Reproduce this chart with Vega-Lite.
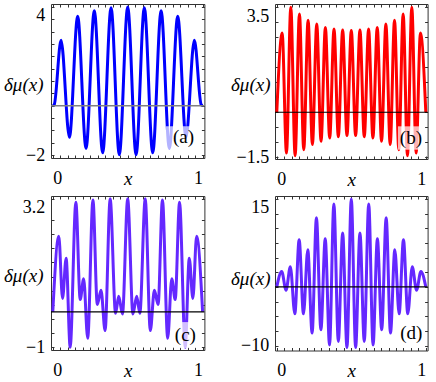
{
  "$schema": "https://vega.github.io/schema/vega-lite/v6.json",
  "padding": {"left": 3, "top": 0, "right": 0, "bottom": 0},
  "bounds": "flush",
  "columns": 2,
  "spacing": {"column": 70, "row": 37},
  "config": {
    "view": {"stroke": null},
    "font": "Liberation Serif, Times New Roman, DejaVu Serif, serif",
    "text": {"font": "Liberation Serif, Times New Roman, DejaVu Serif, serif"},
    "axis": {
      "grid": false, "domainColor": "#333333", "tickColor": "#333333", "domainWidth": 1, "tickWidth": 1,
      "tickSize": -3, "labelFont": "Liberation Serif, Times New Roman, DejaVu Serif, serif", "labelFontSize": 18, "labelColor": "#000000",
      "titleFont": "Liberation Serif, Times New Roman, DejaVu Serif, serif", "titleFontSize": 19, "titleFontWeight": "normal", "titleColor": "#000000",
      "labelOverlap": false, "labelBound": false
    },
    "axisBottom": {"labelBaseline": "middle", "labelPadding": 23, "labelFlush": 5, "titleY": 20, "titleBaseline": "middle", "titleFontStyle": "italic"},
    "axisLeft": {"labelPadding": 9.3, "labelAlign": "right", "titleAngle": 0, "titleAlign": "right", "titleBaseline": "middle", "titleFontStyle": "italic"},
    "axisTop": {"labels": false},
    "axisRight": {"labels": false}
  },
  "datasets": {
    "a": [
      {"x": 0, "y": 0}, {"x": 0.01, "y": 0.05}, {"x": 0.055, "y": 2.65}, {"x": 0.111, "y": -1.28}, {"x": 0.166, "y": 3.62},
      {"x": 0.222, "y": -1.73}, {"x": 0.277, "y": 3.85}, {"x": 0.333, "y": -1.91}, {"x": 0.389, "y": 3.97},
      {"x": 0.444, "y": -1.99}, {"x": 0.5, "y": 4.0}, {"x": 0.556, "y": -1.99}, {"x": 0.611, "y": 3.97},
      {"x": 0.667, "y": -1.91}, {"x": 0.723, "y": 3.85}, {"x": 0.778, "y": -1.73}, {"x": 0.834, "y": 3.62},
      {"x": 0.889, "y": -1.28}, {"x": 0.945, "y": 2.65}, {"x": 0.99, "y": 0.05}, {"x": 1, "y": 0}
    ],
    "b": [
      {"x": 0, "y": 0}, {"x": 0.036, "y": 2.64}, {"x": 0.065, "y": -1.36}, {"x": 0.094, "y": 3.5}, {"x": 0.123, "y": -1.45},
      {"x": 0.152, "y": 3.28}, {"x": 0.181, "y": -1.25}, {"x": 0.21, "y": 3.07}, {"x": 0.239, "y": -1.08},
      {"x": 0.268, "y": 2.94}, {"x": 0.297, "y": -0.97}, {"x": 0.326, "y": 2.83}, {"x": 0.355, "y": -0.86},
      {"x": 0.384, "y": 2.78}, {"x": 0.413, "y": -0.82}, {"x": 0.442, "y": 2.74}, {"x": 0.471, "y": -0.78},
      {"x": 0.5, "y": 2.73}, {"x": 0.529, "y": -0.78}, {"x": 0.558, "y": 2.74}, {"x": 0.587, "y": -0.82},
      {"x": 0.616, "y": 2.78}, {"x": 0.645, "y": -0.86}, {"x": 0.674, "y": 2.83}, {"x": 0.703, "y": -0.97},
      {"x": 0.732, "y": 2.94}, {"x": 0.761, "y": -1.08}, {"x": 0.79, "y": 3.07}, {"x": 0.819, "y": -1.25},
      {"x": 0.848, "y": 3.28}, {"x": 0.877, "y": -1.45}, {"x": 0.906, "y": 3.5}, {"x": 0.935, "y": -1.36},
      {"x": 0.964, "y": 2.64}, {"x": 1, "y": 0}
    ],
    "c": [
      {"x": 0, "y": 0}, {"x": 0.04, "y": 2.14}, {"x": 0.065, "y": 0.38}, {"x": 0.089, "y": 1.52}, {"x": 0.116, "y": -1.0},
      {"x": 0.154, "y": 3.1}, {"x": 0.183, "y": 0.35}, {"x": 0.206, "y": 0.94}, {"x": 0.233, "y": -0.75},
      {"x": 0.268, "y": 3.17}, {"x": 0.297, "y": 0.21}, {"x": 0.322, "y": 0.61}, {"x": 0.349, "y": -0.53},
      {"x": 0.383, "y": 3.2}, {"x": 0.419, "y": -0.04}, {"x": 0.44, "y": 0.44}, {"x": 0.465, "y": -0.06},
      {"x": 0.5, "y": 3.2}, {"x": 0.535, "y": -0.06}, {"x": 0.56, "y": 0.44}, {"x": 0.581, "y": -0.04},
      {"x": 0.617, "y": 3.2}, {"x": 0.651, "y": -0.53}, {"x": 0.678, "y": 0.61}, {"x": 0.703, "y": 0.21},
      {"x": 0.732, "y": 3.17}, {"x": 0.767, "y": -0.75}, {"x": 0.794, "y": 0.94}, {"x": 0.817, "y": 0.35},
      {"x": 0.846, "y": 3.1}, {"x": 0.884, "y": -1.0}, {"x": 0.911, "y": 1.52}, {"x": 0.935, "y": 0.38},
      {"x": 0.96, "y": 2.14}, {"x": 1, "y": 0}
    ],
    "d": [
      {"x": 0, "y": 0}, {"x": 0.033, "y": 2.64}, {"x": 0.062, "y": -0.57}, {"x": 0.091, "y": 3.45}, {"x": 0.121, "y": -4.6},
      {"x": 0.15, "y": 8.05}, {"x": 0.179, "y": -4.6}, {"x": 0.208, "y": 6.32}, {"x": 0.237, "y": -7.87},
      {"x": 0.266, "y": 11.78}, {"x": 0.296, "y": -7.3}, {"x": 0.325, "y": 8.22}, {"x": 0.354, "y": -9.9},
      {"x": 0.383, "y": 14.14}, {"x": 0.413, "y": -9.3}, {"x": 0.442, "y": 9.2}, {"x": 0.471, "y": -10.34},
      {"x": 0.5, "y": 15.0}, {"x": 0.529, "y": -10.34}, {"x": 0.558, "y": 9.2}, {"x": 0.587, "y": -9.3},
      {"x": 0.617, "y": 14.14}, {"x": 0.646, "y": -9.9}, {"x": 0.675, "y": 8.22}, {"x": 0.704, "y": -7.3},
      {"x": 0.734, "y": 11.78}, {"x": 0.763, "y": -7.87}, {"x": 0.792, "y": 6.32}, {"x": 0.821, "y": -4.6},
      {"x": 0.85, "y": 8.05}, {"x": 0.879, "y": -4.6}, {"x": 0.909, "y": 3.45}, {"x": 0.938, "y": -0.57},
      {"x": 0.967, "y": 2.64}, {"x": 1, "y": 0}
    ],
    "one": [{}]
  },
  "concat": [
    {
      "width": 153.4, "height": 154,
      "resolve": {"axis": {"x": "independent", "y": "independent"}},
      "layer": [
        {
          "data": {"name": "a"},
          "mark": {"type": "line", "interpolate": "monotone", "color": "#0000ff", "strokeWidth": 3},
          "encoding": {
            "x": {"field": "x", "type": "quantitative", "scale": {"domain": [-0.012, 1.012], "nice": false, "zero": false},
              "axis": {"orient": "bottom", "values": [0,0.05,0.1,0.15,0.2,0.25,0.3,0.35,0.4,0.45,0.5,0.55,0.6,0.65,0.7,0.75,0.8,0.85,0.9,0.95,1], "format": ".2~f", "labelExpr": "datum.value == 0 || datum.value == 1 ? datum.label : ''", "title": "x"}},
            "y": {"field": "y", "type": "quantitative", "scale": {"domain": [-2.12, 4.12], "nice": false, "zero": false},
              "axis": {"orient": "left", "values": [-2,-1.5,-1,-0.5,0,0.5,1,1.5,2,2.5,3,3.5,4], "format": ".1~f", "labelExpr": "datum.value == 4 || datum.value == -2 ? datum.label : ''", "labelBaseline": {"condition": {"test": "datum.value > 0", "value": "top"}, "value": "middle"}, "title": "δμ(x)", "titleX": -8, "titleY": 80}}
          }
        },
        {
          "data": {"name": "one"},
          "mark": {"type": "rule", "color": "#808080", "strokeWidth": 1.5},
          "encoding": {"y": {"datum": 0, "type": "quantitative", "axis": null}}
        },
        {
          "data": {"name": "one"},
          "mark": {"type": "rect", "fill": "#ffffff", "fillOpacity": 0.7},
          "encoding": {"x": {"datum": 0.755, "type": "quantitative", "axis": null}, "x2": {"datum": 0.967}, "y": {"datum": -0.83, "type": "quantitative", "axis": null}, "y2": {"datum": -1.79}}
        },
        {
          "data": {"name": "one"},
          "mark": {"type": "text", "text": "(a)", "fontSize": 19, "baseline": "middle", "align": "center", "color": "#000000"},
          "encoding": {
            "x": {"datum": 0.872, "type": "quantitative", "axis": {"orient": "top", "values": [0,0.05,0.1,0.15,0.2,0.25,0.3,0.35,0.4,0.45,0.5,0.55,0.6,0.65,0.7,0.75,0.8,0.85,0.9,0.95,1], "title": null}},
            "y": {"datum": -1.27, "type": "quantitative", "axis": {"orient": "right", "values": [-2,-1.5,-1,-0.5,0,0.5,1,1.5,2,2.5,3,3.5,4], "title": null}}
          }
        }
      ]
    },
    {
      "width": 152.6, "height": 155,
      "resolve": {"axis": {"x": "independent", "y": "independent"}},
      "layer": [
        {
          "data": {"name": "b"},
          "mark": {"type": "line", "interpolate": "monotone", "color": "#ff0000", "strokeWidth": 3},
          "encoding": {
            "x": {"field": "x", "type": "quantitative", "scale": {"domain": [-0.012, 1.012], "nice": false, "zero": false},
              "axis": {"orient": "bottom", "values": [0,0.05,0.1,0.15,0.2,0.25,0.3,0.35,0.4,0.45,0.5,0.55,0.6,0.65,0.7,0.75,0.8,0.85,0.9,0.95,1], "format": ".2~f", "labelExpr": "datum.value == 0 || datum.value == 1 ? datum.label : ''", "title": "x"}},
            "y": {"field": "y", "type": "quantitative", "scale": {"domain": [-1.56, 3.61], "nice": false, "zero": false},
              "axis": {"orient": "left", "values": [-1.5,-1,-0.5,0,0.5,1,1.5,2,2.5,3,3.5], "format": ".1~f", "labelExpr": "datum.value == 3.5 || datum.value == -1.5 ? datum.label : ''", "labelBaseline": {"condition": {"test": "datum.value > 0", "value": "top"}, "value": "middle"}, "title": "δμ(x)", "titleX": -5, "titleY": 80}}
          }
        },
        {
          "data": {"name": "one"},
          "mark": {"type": "rule", "color": "#000000", "strokeWidth": 1.2},
          "encoding": {"y": {"datum": 0, "type": "quantitative", "axis": null}}
        },
        {
          "data": {"name": "one"},
          "mark": {"type": "rect", "fill": "#ffffff", "fillOpacity": 0.7},
          "encoding": {"x": {"datum": 0.813, "type": "quantitative", "axis": null}, "x2": {"datum": 0.978}, "y": {"datum": -0.47, "type": "quantitative", "axis": null}, "y2": {"datum": -1.25}}
        },
        {
          "data": {"name": "one"},
          "mark": {"type": "text", "text": "(b)", "fontSize": 19, "baseline": "middle", "align": "center", "color": "#000000"},
          "encoding": {
            "x": {"datum": 0.9, "type": "quantitative", "axis": {"orient": "top", "values": [0,0.05,0.1,0.15,0.2,0.25,0.3,0.35,0.4,0.45,0.5,0.55,0.6,0.65,0.7,0.75,0.8,0.85,0.9,0.95,1], "title": null}},
            "y": {"datum": -0.857, "type": "quantitative", "axis": {"orient": "right", "values": [-1.5,-1,-0.5,0,0.5,1,1.5,2,2.5,3,3.5], "title": null}}
          }
        }
      ]
    },
    {
      "width": 153.4, "height": 154,
      "resolve": {"axis": {"x": "independent", "y": "independent"}},
      "layer": [
        {
          "data": {"name": "c"},
          "mark": {"type": "line", "interpolate": "monotone", "color": "#6428ff", "strokeWidth": 3},
          "encoding": {
            "x": {"field": "x", "type": "quantitative", "scale": {"domain": [-0.012, 1.012], "nice": false, "zero": false},
              "axis": {"orient": "bottom", "values": [0,0.05,0.1,0.15,0.2,0.25,0.3,0.35,0.4,0.45,0.5,0.55,0.6,0.65,0.7,0.75,0.8,0.85,0.9,0.95,1], "format": ".2~f", "labelExpr": "datum.value == 0 || datum.value == 1 ? datum.label : ''", "title": "x"}},
            "y": {"field": "y", "type": "quantitative", "scale": {"domain": [-1.08, 3.28], "nice": false, "zero": false},
              "axis": {"orient": "left", "values": [-1,-0.6,-0.2,0.2,0.6,1,1.4,1.8,2.2,2.6,3.2], "format": ".1~f", "labelExpr": "datum.value == 3.2 || datum.value == -1 ? datum.label : ''", "labelBaseline": {"condition": {"test": "datum.value > 0", "value": "top"}, "value": "middle"}, "title": "δμ(x)", "titleX": -8, "titleY": 79}}
          }
        },
        {
          "data": {"name": "one"},
          "mark": {"type": "rule", "color": "#000000", "strokeWidth": 1.2},
          "encoding": {"y": {"datum": 0, "type": "quantitative", "axis": null}}
        },
        {
          "data": {"name": "one"},
          "mark": {"type": "rect", "fill": "#ffffff", "fillOpacity": 0.7},
          "encoding": {"x": {"datum": 0.805, "type": "quantitative", "axis": null}, "x2": {"datum": 0.96}, "y": {"datum": -0.29, "type": "quantitative", "axis": null}, "y2": {"datum": -1.025}}
        },
        {
          "data": {"name": "one"},
          "mark": {"type": "text", "text": "(c)", "fontSize": 19, "baseline": "middle", "align": "center", "color": "#000000"},
          "encoding": {
            "x": {"datum": 0.885, "type": "quantitative", "axis": {"orient": "top", "values": [0,0.05,0.1,0.15,0.2,0.25,0.3,0.35,0.4,0.45,0.5,0.55,0.6,0.65,0.7,0.75,0.8,0.85,0.9,0.95,1], "title": null}},
            "y": {"datum": -0.644, "type": "quantitative", "axis": {"orient": "right", "values": [-1,-0.6,-0.2,0.2,0.6,1,1.4,1.8,2.2,2.6,3.2], "title": null}}
          }
        }
      ]
    },
    {
      "width": 152.6, "height": 154.5,
      "resolve": {"axis": {"x": "independent", "y": "independent"}},
      "layer": [
        {
          "data": {"name": "d"},
          "mark": {"type": "line", "interpolate": "monotone", "color": "#6428ff", "strokeWidth": 3},
          "encoding": {
            "x": {"field": "x", "type": "quantitative", "scale": {"domain": [-0.012, 1.012], "nice": false, "zero": false},
              "axis": {"orient": "bottom", "values": [0,0.05,0.1,0.15,0.2,0.25,0.3,0.35,0.4,0.45,0.5,0.55,0.6,0.65,0.7,0.75,0.8,0.85,0.9,0.95,1], "format": ".2~f", "labelExpr": "datum.value == 0 || datum.value == 1 ? datum.label : ''", "title": "x"}},
            "y": {"field": "y", "type": "quantitative", "scale": {"domain": [-10.85, 15.51], "nice": false, "zero": false},
              "axis": {"orient": "left", "values": [-10,-7.5,-5,-2.5,0,2.5,5,7.5,10,12.5,15], "format": ".1~f", "labelExpr": "datum.value == 15 || datum.value == -10 ? datum.label : ''", "labelBaseline": {"condition": {"test": "datum.value > 0", "value": "top"}, "value": "middle"}, "title": "δμ(x)", "titleX": -5, "titleY": 82}}
          }
        },
        {
          "data": {"name": "one"},
          "mark": {"type": "rule", "color": "#000000", "strokeWidth": 1.2},
          "encoding": {"y": {"datum": 0, "type": "quantitative", "axis": null}}
        },
        {
          "data": {"name": "one"},
          "mark": {"type": "rect", "fill": "#ffffff", "fillOpacity": 0.7},
          "encoding": {"x": {"datum": 0.81, "type": "quantitative", "axis": null}, "x2": {"datum": 0.99}, "y": {"datum": -5.86, "type": "quantitative", "axis": null}, "y2": {"datum": -10.17}}
        },
        {
          "data": {"name": "one"},
          "mark": {"type": "text", "text": "(d)", "fontSize": 19, "baseline": "middle", "align": "center", "color": "#000000"},
          "encoding": {
            "x": {"datum": 0.903, "type": "quantitative", "axis": {"orient": "top", "values": [0,0.05,0.1,0.15,0.2,0.25,0.3,0.35,0.4,0.45,0.5,0.55,0.6,0.65,0.7,0.75,0.8,0.85,0.9,0.95,1], "title": null}},
            "y": {"datum": -7.93, "type": "quantitative", "axis": {"orient": "right", "values": [-10,-7.5,-5,-2.5,0,2.5,5,7.5,10,12.5,15], "title": null}}
          }
        }
      ]
    }
  ]
}
